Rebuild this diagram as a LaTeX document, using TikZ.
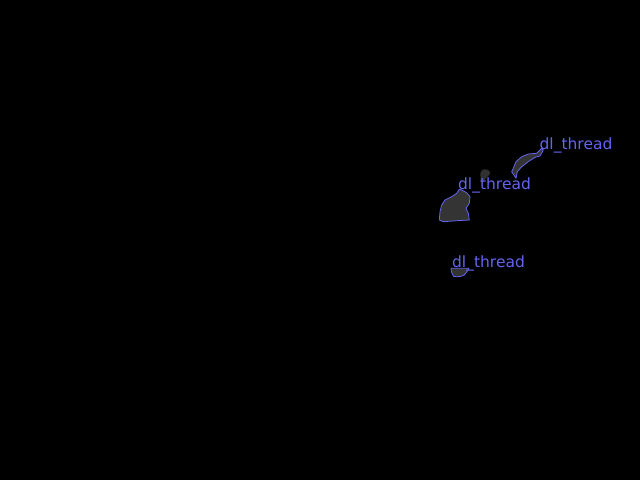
\documentclass[tikz,border=0pt]{standalone}
\usepackage{fontspec}
\setmainfont{DejaVu Sans}
\definecolor{lblue}{RGB}{100,100,240}
\definecolor{blobfill}{RGB}{52,52,52}
\definecolor{spotfill}{RGB}{48,48,48}
\begin{document}
\begin{tikzpicture}[x=1pt,y=-1pt,
  blob/.style={draw=lblue,fill=blobfill,line width=0.8pt,line join=round},
  lbl/.style={text=lblue,font=\fontsize{15.5}{15.5}\selectfont,inner sep=0pt,anchor=center}]
\fill[black] (0,0) rectangle (640,480);
\useasboundingbox (0,0) rectangle (640,480);
% upper right blob
\draw[blob] (541.7,148.3) -- (536.7,153.3) -- (528.3,154) -- (521.7,156.7) -- (516,161.7) -- (513.3,168.3) -- (511.7,171.7) -- (516,178.3) -- (517.3,171.7) -- (521.7,166.7) -- (528.3,161.7) -- (535,157.3) -- (540,156) -- (543.3,150) -- cycle;
% big blob
\draw[blob] (459.3,189.3) -- (456.7,193.3) -- (451.7,196.7) -- (445,200) -- (441.7,205) -- (440,211.7) -- (439.3,220) -- (443.3,221.7) -- (456.7,220.7) -- (469.3,220) -- (468.3,213.3) -- (466,208.3) -- (469.3,203.3) -- (470,196.7) -- (466.7,192.7) -- (461.7,190) -- cycle;
% small grey spot
\fill[spotfill] (485,169.3) .. controls (489,169.5) and (491,172) .. (489.5,174.5) .. controls (487,177) and (485,179) .. (482.5,183) .. controls (480,182) and (480.5,176) .. (480.5,173) .. controls (481,170) and (483,169.2) .. (485,169.3) -- cycle;
% bottom blob
\draw[blob] (451,268.3) -- (469,268.3) -- (466,273) .. controls (464,276.5) and (458,277.5) .. (453.5,276.3) -- (451.5,272) -- cycle;
\node[lbl] (t1) at (576,145.5) {dl\_thread};
\node[lbl] (t2) at (494.5,185.5) {dl\_thread};
\node[lbl] (t3) at (488.5,263.5) {dl\_thread};
\end{tikzpicture}
\end{document}
